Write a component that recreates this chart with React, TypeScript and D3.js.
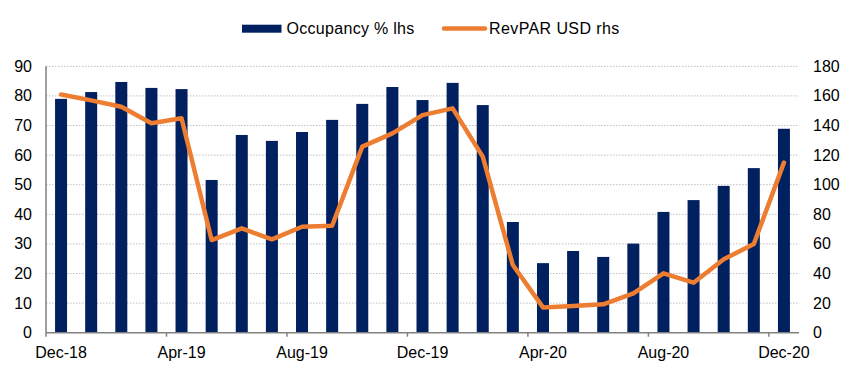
import React from "react";
import * as d3 from "d3";

const months = [
  "Dec-18","Jan-19","Feb-19","Mar-19","Apr-19","May-19","Jun-19","Jul-19","Aug-19","Sep-19","Oct-19","Nov-19",
  "Dec-19","Jan-20","Feb-20","Mar-20","Apr-20","May-20","Jun-20","Jul-20","Aug-20","Sep-20","Oct-20","Nov-20","Dec-20",
];
const occupancy = [79, 81.3, 84.7, 82.7, 82.3, 51.6, 66.8, 64.8, 67.8, 71.9, 77.3, 83, 78.6, 84.4, 76.9, 37.4, 23.5, 27.6, 25.6, 30.1, 40.8, 44.8, 49.6, 55.6, 68.9];
const revpar = [161, 157, 152.7, 141.5, 144.9, 62.6, 70.5, 63.1, 71.6, 72.3, 125.7, 134.7, 147, 151.6, 119, 45.7, 17.1, 18, 19.2, 26.6, 40.1, 33.8, 49.6, 59.9, 114.9];
const leftTicks = [0, 10, 20, 30, 40, 50, 60, 70, 80, 90];
const rightTicks = [0, 20, 40, 60, 80, 100, 120, 140, 160, 180];
const xTickLabels = ["Dec-18", "Apr-19", "Aug-19", "Dec-19", "Apr-20", "Aug-20", "Dec-20"];
const seriesNames = ["Occupancy % lhs", "RevPAR USD rhs"];

const W = 855, H = 375;
const L = 46, R = 799, T = 66.3, B = 332.7;
const NAVY = "#002060";
const ORANGE = "#ED7D31";
const FONT = "'Liberation Sans', Arial, sans-serif";

export default function App() {
  const x = d3.scaleBand<string>().domain(months).range([L, R]).padding(0);
  const yL = d3.scaleLinear().domain([0, 90]).range([B, T]);
  const yR = d3.scaleLinear().domain([0, 180]).range([B, T]);
  const bw = 12;
  const line = d3
    .line<number>()
    .x((_, i) => (x(months[i]) as number) + x.bandwidth() / 2)
    .y((d) => yR(d));

  return (
    <svg width={W} height={H} style={{ position: "absolute", left: 0, top: 0, background: "#fff" }} fontFamily={FONT}>
      {leftTicks.filter((t) => t > 0).map((t) => (
        <line key={"g" + t} x1={L} x2={R} y1={yL(t)} y2={yL(t)} stroke="#c0c0c0" strokeWidth={1} strokeDasharray="1.5,1.5" />
      ))}
      {occupancy.map((v, i) => (
        <rect key={"b" + i} x={(x(months[i]) as number) + (x.bandwidth() - bw) / 2} y={yL(v)} width={bw} height={B - yL(v)} fill={NAVY} />
      ))}
      <line x1={L} x2={L} y1={T} y2={B} stroke="#808080" strokeWidth={1.5} />
      <line x1={L} x2={R} y1={B} y2={B} stroke="#808080" strokeWidth={1.5} />
      {xTickLabels.map((m) => {
        const xx = x(m) as number;
        return (
          <g key={"xt" + m}>
            <line x1={xx} x2={xx} y1={B} y2={B + 4} stroke="#808080" strokeWidth={1.5} />
            <text x={xx + x.bandwidth() / 2} y={358} textAnchor="middle" fontSize={16} fill="#000">{m}</text>
          </g>
        );
      })}
      {leftTicks.map((t) => (
        <text key={"lt" + t} x={32} y={yL(t) + 5.5} textAnchor="end" fontSize={16} fill="#000">{t}</text>
      ))}
      {rightTicks.map((t) => (
        <text key={"rt" + t} x={813} y={yR(t) + 5.5} textAnchor="start" fontSize={16} fill="#000">{t}</text>
      ))}
      <path d={line(revpar) || ""} fill="none" stroke={ORANGE} strokeWidth={4.5} strokeLinejoin="round" strokeLinecap="round" />
      <rect x={242} y={24.7} width={39.5} height={8} fill={NAVY} />
      <text x={286.5} y={34} fontSize={16} letterSpacing={0.3} fill="#000">{seriesNames[0]}</text>
      <line x1={444} x2={485} y1={28.5} y2={28.5} stroke={ORANGE} strokeWidth={4.5} strokeLinecap="round" />
      <text x={489} y={34} fontSize={16} letterSpacing={0.4} fill="#000">{seriesNames[1]}</text>
    </svg>
  );
}
